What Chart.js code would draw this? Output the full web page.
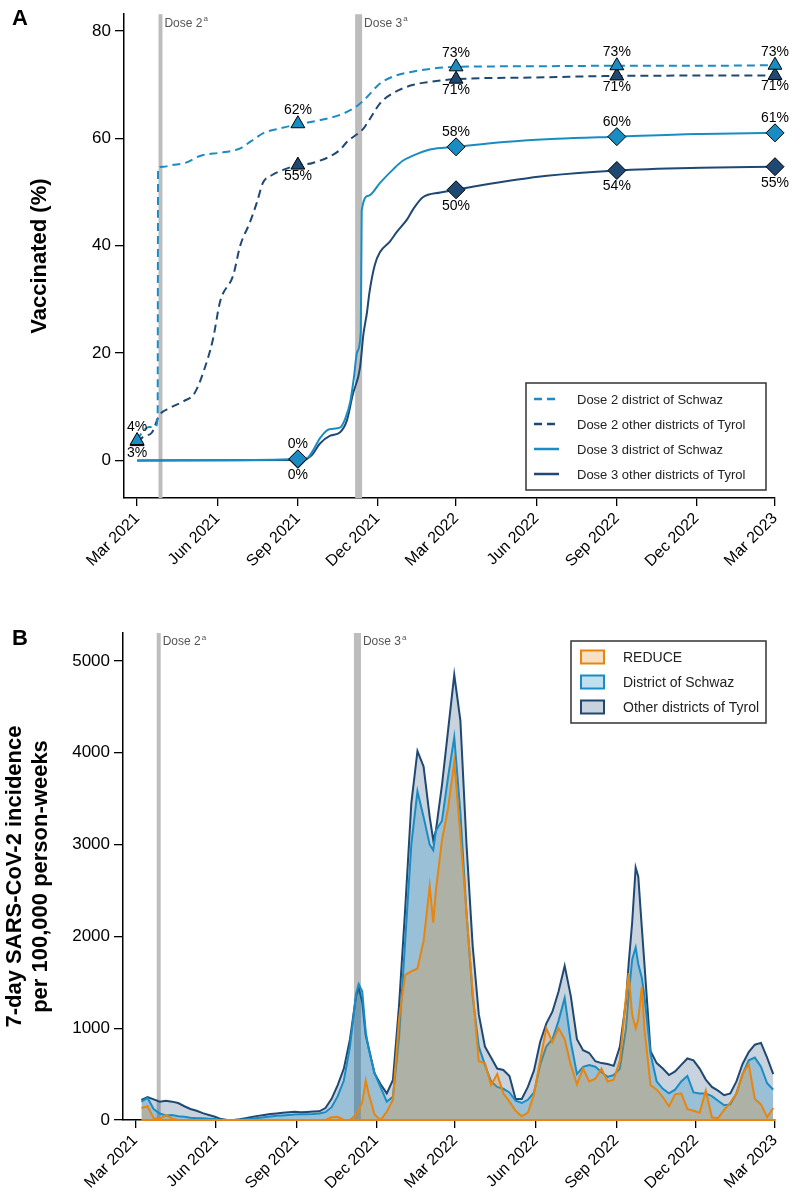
<!DOCTYPE html>
<html>
<head>
<meta charset="utf-8">
<script src="https://cdn.jsdelivr.net/npm/chart.js@4.4.1/dist/chart.umd.min.js"></script>
<style>
  body { margin: 0; background: #fff; }
  #wrap { position: relative; width: 792px; height: 1203px; }
  canvas { position: absolute; left: 0; }
</style>
</head>
<body>
<div id="wrap">
  <canvas id="vaccinated" width="792" height="600" style="top:0"></canvas>
  <canvas id="incidence" width="792" height="603" style="top:600px"></canvas>
</div>
<script>
// x values are days since 1 Mar 2021
const tickDays = [0, 92, 184, 275, 365, 457, 549, 640, 730];
const tickLabels = ["Mar 2021", "Jun 2021", "Sep 2021", "Dec 2021", "Mar 2022",
    "Jun 2022", "Sep 2022", "Dec 2022", "Mar 2023"];

const doseNames = ["Dose 2", "Dose 3"];
const doseStart = [24.5, 249.5];
const doseEnd = [29, 257.5];

// Panel A: vaccination coverage (%)
const dose2SchwazDays = [0, 7, 14, 21, 23.5, 24, 30, 40, 55, 72, 95, 110, 118, 130, 145, 165, 184,
    210, 233, 250, 262, 278, 293, 315, 340, 365, 450, 549, 650, 730];
const dose2Schwaz = [3.7, 5.5, 6.2, 6.3, 8.0, 54.5, 54.7, 55.0, 55.4, 56.7, 57.3, 57.7, 58.1, 59.4,
    61.0, 61.9, 62.6, 63.4, 64.4, 65.8, 67.5, 70.2, 71.5, 72.4, 73.0, 73.3, 73.4, 73.5, 73.5, 73.6];

const dose2TyrolDays = [0, 8, 17, 25, 38, 53, 66, 80, 87, 95, 110, 118, 129, 137, 144, 155, 167, 184,
    201, 232, 240, 259, 266, 278, 293, 315, 335, 365, 450, 549, 730];
const dose2Tyrol = [3.4, 4.5, 5.2, 8.3, 9.8, 11.0, 12.6, 18.5, 22.7, 29.6, 34.5, 40.0, 44.3, 48.0,
    51.7, 53.2, 54.1, 55.0, 55.4, 57.8, 59.3, 61.8, 63.5, 66.5, 68.4, 69.9, 70.5, 71.0, 71.3, 71.6, 71.7];

const dose3SchwazDays = [0, 100, 190, 196, 200, 210, 220, 232, 238, 244, 248, 252, 256, 257, 265, 278,
    293, 304, 315, 335, 365, 420, 480, 549, 640, 730];
const dose3Schwaz = [0, 0.05, 0.3, 0.6, 1.5, 4.3, 5.8, 6.1, 7.7, 11.0, 15.3, 20.3, 24.0, 46.5, 49.3,
    51.7, 54.2, 55.8, 56.7, 57.9, 58.4, 59.3, 59.9, 60.3, 60.8, 61.0];

const dose3TyrolDays = [0, 190, 200, 209, 221, 232, 240, 247, 255, 259, 263, 266, 272, 278, 289, 297,
    309, 316, 327, 347, 365, 392, 469, 549, 645, 730];
const dose3Tyrol = [0, 0.1, 1.0, 3.1, 4.6, 5.2, 7.4, 12.4, 17.2, 23.5, 27.5, 31.4, 36.4, 38.8, 40.7,
    42.5, 44.9, 46.8, 49.0, 49.9, 50.4, 51.2, 53.0, 54.0, 54.5, 54.7];

const markDays2 = [0, 184, 365, 549, 730];
const dose2SchwazMarks = [3.7, 62.7, 73.3, 73.5, 73.6];
const dose2SchwazTexts = ["4%", "62%", "73%", "73%", "73%"];
const dose2TyrolMarks = [3.5, 55.0, 71.0, 71.6, 71.7];
const dose2TyrolTexts = ["3%", "55%", "71%", "71%", "71%"];

const markDays3 = [184, 365, 549, 730];
const dose3SchwazMarks = [0.3, 58.4, 60.3, 61.0];
const dose3SchwazTexts = ["0%", "58%", "60%", "61%"];
const dose3TyrolMarks = [0.2, 50.4, 54.0, 54.7];
const dose3TyrolTexts = ["0%", "50%", "54%", "55%"];

// Panel B: 7-day incidence per 100,000 person-weeks
const weekDays = [7, 14, 21, 28, 35, 42, 49, 56, 63, 70, 77, 84, 91, 98, 105, 112, 119, 126, 133, 140,
    147, 154, 161, 168, 175, 182, 189, 196, 203, 210, 217, 224, 231, 238, 245, 252, 255, 259, 263, 266,
    273, 280, 287, 294, 301, 308, 315, 322, 329, 336, 340, 343, 350, 357, 364, 371, 378, 385, 392, 399,
    406, 413, 420, 427, 434, 441, 448, 455, 462, 469, 476, 483, 490, 497, 504, 511, 518, 525, 532, 539,
    546, 553, 560, 563, 567, 571, 574, 578, 581, 588, 595, 602, 609, 616, 623, 630, 637, 644, 651, 658,
    665, 672, 679, 686, 693, 700, 707, 714, 721, 728];
const incReduce = [130, 150, 20, 10, 55, 15, 0, 0, 0, 0, 0, 0, 0, 0, 0, 0, 0, 0, 0, 0,
    0, 0, 0, 0, 0, 0, 0, 0, 0, 0, 0, 30, 35, 0, 0, 60, 110, 190, 430, 300,
    60, 0, 90, 220, 1100, 1580, 1620, 1650, 1950, 2550, 2150, 2500, 3050, 3400, 3900, 3100, 2250, 1400, 640, 620,
    380, 500, 290, 200, 100, 40, 80, 280, 650, 1000, 850, 1000, 880, 600, 390, 560, 420, 450, 560, 420,
    440, 650, 1350, 1600, 1150, 1000, 1100, 1450, 1000, 380, 330, 250, 150, 280, 290, 120, 100, 80, 320, 30,
    20, 110, 190, 290, 500, 610, 230, 170, 30, 130];
const incSchwaz = [200, 240, 120, 70, 50, 55, 40, 35, 25, 20, 20, 15, 10, 0, 0, 0, 3, 8, 15, 22,
    30, 38, 45, 50, 55, 60, 62, 62, 65, 70, 85, 140, 260, 430, 800, 1380, 1480, 1400, 960, 790,
    510, 355, 200, 254, 900, 1950, 3000, 3580, 3300, 3000, 2940, 3150, 3260, 3740, 4170, 3350, 2250, 1350, 800, 600,
    420, 360, 340, 300, 210, 185, 220, 300, 600, 800, 880, 1080, 1330, 850, 500, 580, 600, 580, 520, 470,
    490, 560, 1000, 1350, 1750, 1880, 1700, 1550, 1350, 720, 420, 340, 290, 330, 420, 480, 300, 290, 290, 260,
    210, 160, 170, 290, 500, 650, 680, 580, 400, 330];
const incTyrol = [220, 250, 225, 200, 210, 200, 185, 150, 120, 100, 75, 55, 35, 10, 0, 0, 8, 20, 32, 45,
    55, 65, 72, 78, 85, 90, 85, 88, 92, 95, 130, 230, 380, 560, 880, 1350, 1440, 1280, 920, 800,
    510, 390, 290, 436, 1250, 2300, 3450, 4020, 3850, 3300, 3050, 3150, 3650, 4250, 4850, 4350, 3000, 1900, 1150, 800,
    680, 560, 545, 480, 230, 230, 360, 540, 850, 1050, 1180, 1400, 1680, 1350, 880, 760, 730, 640, 620, 610,
    590, 800, 1300, 1700, 2150, 2750, 2650, 2100, 1700, 750, 620, 560, 490, 530, 600, 670, 650, 560, 440, 360,
    320, 270, 290, 420, 610, 740, 820, 840, 680, 500];

const schwazBlue = "#1a8cc4";
const tyrolNavy = "#1f4873";
const reduceOrange = "#e8850e";
const fontFamily = '"Liberation Sans", Arial, Helvetica, sans-serif';

Chart.defaults.font.family = fontFamily;
Chart.defaults.color = "#000";

const toPoints = (days, values) => days.map((d, i) => ({ x: d, y: values[i] }));

// gray bars for dose 2 / dose 3 campaigns
const doseBandsPlugin = {
    id: "doseBands",
    beforeDatasetsDraw(chart) {
        const { ctx, chartArea, scales } = chart;
        ctx.save();
        doseNames.forEach((name, i) => {
            const x0 = scales.x.getPixelForValue(doseStart[i]);
            const x1 = scales.x.getPixelForValue(doseEnd[i]);
            ctx.fillStyle = "#bdbdbd";
            ctx.fillRect(x0, chartArea.top, x1 - x0, chartArea.bottom - chartArea.top);
            ctx.fillStyle = "#555";
            ctx.textBaseline = "top";
            ctx.textAlign = "left";
            ctx.font = "12px " + fontFamily;
            ctx.fillText(name, x1 + 2, chartArea.top + 3);
            const w = ctx.measureText(name).width;
            ctx.font = "8px " + fontFamily;
            ctx.fillText("a", x1 + 3 + w, chartArea.top + 1);
        });
        ctx.restore();
    },
};

// percentage labels next to the markers
const pctLabelsPlugin = {
    id: "pctLabels",
    afterDatasetsDraw(chart) {
        const { ctx } = chart;
        ctx.save();
        ctx.font = "14px " + fontFamily;
        ctx.fillStyle = "#000";
        ctx.textAlign = "center";
        ctx.textBaseline = "alphabetic";
        chart.data.datasets.forEach((ds, i) => {
            if (!ds.pctTexts) return;
            const r = ds.pointRadius;
            const down = ds.pointStyle === "triangle" ? r / 2 : r;
            chart.getDatasetMeta(i).data.forEach((pt, j) => {
                const y = ds.textSide === "above" ? pt.y - r - 1.5 : pt.y + down + 11;
                ctx.fillText(ds.pctTexts[j], pt.x, y);
            });
        });
        ctx.restore();
    },
};

// framed legend inside the plot area + panel letter
const boxLegendPlugin = {
    id: "boxLegend",
    afterDraw(chart, args, opts) {
        const { ctx, chartArea } = chart;
        ctx.save();
        ctx.fillStyle = "#000";
        ctx.font = "bold 22px " + fontFamily;
        ctx.textBaseline = "top";
        ctx.textAlign = "left";
        ctx.fillText(opts.letter, 12, opts.letterTop);

        const items = chart.data.datasets.filter((ds) => ds.legendText);
        const right = chartArea.right - 9;
        const left = right - opts.width;
        const top = opts.top;
        const height = items.length * opts.rowGap + 7;
        ctx.fillStyle = "#fff";
        ctx.fillRect(left, top, opts.width, height);
        ctx.strokeStyle = "#333";
        ctx.lineWidth = 1.5;
        ctx.strokeRect(left, top, opts.width, height);

        ctx.font = opts.fontSize + "px " + fontFamily;
        ctx.textBaseline = "middle";
        items.forEach((ds, i) => {
            const y = top + 16 + i * opts.rowGap;
            const sx = left + 8;
            if (opts.kind === "line") {
                ctx.strokeStyle = ds.borderColor;
                ctx.lineWidth = 2.5;
                ctx.setLineDash(ds.borderDash || []);
                ctx.beginPath();
                ctx.moveTo(sx, y);
                ctx.lineTo(sx + 25, y);
                ctx.stroke();
                ctx.setLineDash([]);
            } else {
                ctx.fillStyle = ds.backgroundColor;
                ctx.fillRect(sx + 2, y - 6.5, 23, 13);
                ctx.strokeStyle = ds.borderColor;
                ctx.lineWidth = 2;
                ctx.strokeRect(sx + 2, y - 6.5, 23, 13);
            }
            ctx.fillStyle = "#222";
            ctx.fillText(ds.legendText, left + opts.textOffset, y + 1);
        });
        ctx.restore();
    },
};

// orange REDUCE baseline along the x axis
const baselinePlugin = {
    id: "reduceBaseline",
    afterDatasetsDraw(chart, args, opts) {
        if (!opts.on) return;
        const { ctx, scales } = chart;
        const y = scales.y.getPixelForValue(0);
        ctx.save();
        ctx.strokeStyle = reduceOrange;
        ctx.lineWidth = 2;
        ctx.beginPath();
        ctx.moveTo(scales.x.getPixelForValue(weekDays[0]), y);
        ctx.lineTo(scales.x.getPixelForValue(weekDays[weekDays.length - 1]) + 2, y);
        ctx.stroke();
        ctx.restore();
    },
};

function xAxis(minDay, height) {
    return {
        type: "linear",
        min: minDay,
        max: 730,
        afterBuildTicks: (axis) => {
            axis.ticks = tickDays.map((v) => ({ value: v }));
        },
        afterFit: (axis) => {
            axis.height = height;
        },
        ticks: {
            callback: (v, i) => tickLabels[i],
            autoSkip: false,
            maxRotation: 45,
            minRotation: 45,
            font: { size: 16 },
            color: "#000",
            padding: 3,
        },
        grid: { drawOnChartArea: false, tickLength: 8, color: "#000", lineWidth: 1.3 },
        border: { color: "#000", width: 1.5 },
    };
}

function yAxis(min, max, tickValues, width, title, titleSize, titleLine, titlePad) {
    return {
        min: min,
        max: max,
        afterBuildTicks: (axis) => {
            axis.ticks = tickValues.map((v) => ({ value: v }));
        },
        afterFit: (axis) => {
            axis.width = width;
        },
        ticks: { font: { size: 17 }, color: "#000", padding: 4, callback: (v) => String(v) },
        grid: { drawOnChartArea: false, tickLength: 9, color: "#000", lineWidth: 1.3 },
        border: { color: "#000", width: 1.5 },
        title: {
            display: true,
            text: title,
            color: "#000",
            font: { size: titleSize, weight: "bold", lineHeight: titleLine },
            padding: { top: titlePad, bottom: 0 },
        },
    };
}

document.addEventListener("DOMContentLoaded", () => {
    // Chart A: vaccination coverage
    const markerSet = (days, values, texts, style, color, side) => ({
        data: toPoints(days, values),
        showLine: false,
        clip: false,
        pointStyle: style,
        pointRadius: style === "triangle" ? 8 : 9,
        pointBackgroundColor: color,
        pointBorderColor: "#000",
        pointBorderWidth: 1,
        pctTexts: texts,
        textSide: side,
    });
    const lineSet = (days, values, color, dashed, text) => ({
        data: toPoints(days, values),
        borderColor: color,
        borderWidth: 2,
        borderDash: dashed ? [8, 5] : [],
        pointRadius: 0,
        cubicInterpolationMode: "monotone",
        legendText: text,
    });

    new Chart(document.getElementById("vaccinated"), {
        type: "line",
        data: {
            datasets: [
                markerSet(markDays2, dose2SchwazMarks, dose2SchwazTexts, "triangle", schwazBlue, "above"),
                markerSet(markDays2, dose2TyrolMarks, dose2TyrolTexts, "triangle", tyrolNavy, "below"),
                markerSet(markDays3, dose3SchwazMarks, dose3SchwazTexts, "rectRot", schwazBlue, "above"),
                markerSet(markDays3, dose3TyrolMarks, dose3TyrolTexts, "rectRot", tyrolNavy, "below"),
                lineSet(dose2SchwazDays, dose2Schwaz, schwazBlue, true, "Dose 2 district of Schwaz"),
                lineSet(dose2TyrolDays, dose2Tyrol, tyrolNavy, true, "Dose 2 other districts of Tyrol"),
                lineSet(dose3SchwazDays, dose3Schwaz, schwazBlue, false, "Dose 3 district of Schwaz"),
                lineSet(dose3TyrolDays, dose3Tyrol, tyrolNavy, false, "Dose 3 other districts of Tyrol"),
            ],
        },
        options: {
            responsive: false,
            animation: false,
            layout: { padding: { top: 10, right: 17, left: 0, bottom: 0 } },
            plugins: {
                legend: { display: false },
                tooltip: { enabled: false },
                boxLegend: { letter: "A", letterTop: 8, kind: "line", width: 240, top: 383,
                    rowGap: 25, fontSize: 13, textOffset: 51 },
                reduceBaseline: { on: false },
            },
            scales: {
                x: xAxis(-15, 102),
                y: yAxis(-7, 83.1, [0, 20, 40, 60, 80], 124, "Vaccinated (%)", 22, 1.2, 27),
            },
        },
        plugins: [doseBandsPlugin, pctLabelsPlugin, boxLegendPlugin, baselinePlugin],
    });

    // Chart B: incidence
    const areaSet = (values, color, fill, text) => ({
        data: toPoints(weekDays, values),
        borderColor: color,
        backgroundColor: fill,
        borderWidth: 2,
        fill: "origin",
        pointRadius: 0,
        tension: 0,
        legendText: text,
    });

    new Chart(document.getElementById("incidence"), {
        type: "line",
        data: {
            datasets: [
                areaSet(incReduce, reduceOrange, "rgba(232, 133, 14, 0.25)", "REDUCE"),
                areaSet(incSchwaz, schwazBlue, "rgba(26, 140, 196, 0.27)", "District of Schwaz"),
                areaSet(incTyrol, tyrolNavy, "rgba(31, 72, 115, 0.24)", "Other districts of Tyrol"),
            ],
        },
        options: {
            responsive: false,
            animation: false,
            layout: { padding: { top: 33, right: 17, left: 0, bottom: 0 } },
            plugins: {
                legend: { display: false },
                tooltip: { enabled: false },
                boxLegend: { letter: "B", letterTop: 28, kind: "box", width: 195, top: 41,
                    rowGap: 25, fontSize: 14, textOffset: 52 },
                reduceBaseline: { on: true },
            },
            scales: {
                x: xAxis(-14, 83),
                y: yAxis(0, 5305, [0, 1000, 2000, 3000, 4000, 5000], 123,
                    ["7-day SARS-CoV-2 incidence", "per 100,000 person-weeks"], 22, 1.15, 2.5),
            },
        },
        plugins: [doseBandsPlugin, boxLegendPlugin, baselinePlugin],
    });
});
</script>
</body>
</html>
